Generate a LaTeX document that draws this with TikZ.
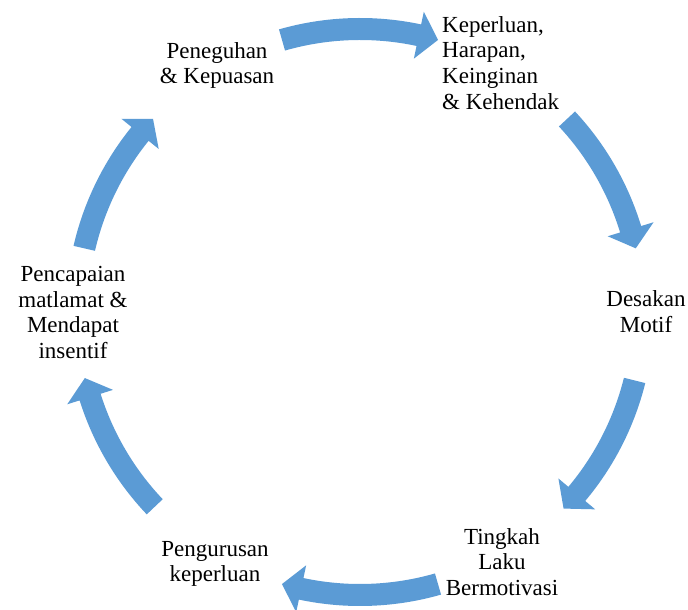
\documentclass[tikz,border=0pt]{standalone}
\usepackage{fontspec}
\setmainfont{Liberation Serif}
\definecolor{arrowblue}{HTML}{5B9BD5}
\tikzset{cycletext/.style={align=center,font=\fontsize{23}{25.8}\selectfont,inner sep=0pt}}
\begin{document}
\begin{tikzpicture}[x=1pt,y=1pt]
            \useasboundingbox (0,0) rectangle (688,610);
            \coordinate (O) at (360,298);
            \foreach \c/\s in {90/16,28/15,-29/15,-90/16,-151.5/15,152/15}{
                \fill[arrowblue] ([shift={(\c+\s:294)}]O) arc[start angle=\c+\s,end angle=\c-\s+4,radius=294]
                    -- ([shift={(\c-\s+4:307)}]O) -- ([shift={(\c-\s:283)}]O) -- ([shift={(\c-\s+4:259)}]O)
                    -- ([shift={(\c-\s+4:272)}]O) arc[start angle=\c-\s+4,end angle=\c+\s,radius=272] -- cycle;
            }
            \node[cycletext,align=left,anchor=west] (keperluan) at (442,547) {Keperluan,\\Harapan,\\Keinginan\\\& Kehendak};
            \node[cycletext] (desakan) at (646,298.5) {Desakan\\Motif};
            \node[cycletext] (tingkah) at (502,48) {Tingkah\\Laku\\Bermotivasi};
            \node[cycletext] (pengurusan) at (215,46) {Pengurusan\\keperluan};
            \node[cycletext] (pencapaian) at (73,297.5) {Pencapaian\\matlamat \&\\Mendapat\\insentif};
            \node[cycletext] (peneguhan) at (217,544.5) {Peneguhan\\\& Kepuasan};
        \end{tikzpicture}
\end{document}
